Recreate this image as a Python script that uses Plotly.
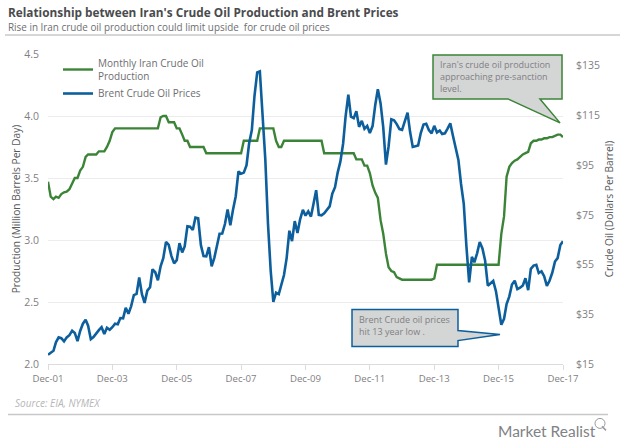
import pandas as pd
import plotly.graph_objects as go

W, H = 620, 444
L, R, T, B = 48, 563, 54, 364.5

months = pd.date_range("2001-12-01", "2017-12-01", freq="MS")

iran_production = [
    3.47,
    3.35, 3.33, 3.35, 3.34, 3.37, 3.385, 3.39, 3.41, 3.455, 3.50, 3.50, 3.56,
    3.59, 3.67, 3.69, 3.69, 3.69, 3.69, 3.715, 3.715, 3.715, 3.75, 3.80, 3.87,
    3.90, 3.90, 3.90, 3.90, 3.90, 3.90, 3.90, 3.90, 3.90, 3.90, 3.90, 3.90,
    3.90, 3.90, 3.90, 3.90, 3.90, 3.99, 4.00, 4.00, 3.95, 3.95, 3.95, 3.90,
    3.90, 3.85, 3.80, 3.80, 3.75, 3.75, 3.75, 3.75, 3.75, 3.75, 3.70, 3.70,
    3.70, 3.70, 3.70, 3.70, 3.70, 3.70, 3.70, 3.70, 3.70, 3.70, 3.70, 3.70,
    3.80, 3.80, 3.80, 3.80, 3.80, 3.80, 3.90, 3.90, 3.90, 3.90, 3.90, 3.90,
    3.80, 3.75, 3.75, 3.80, 3.80, 3.80, 3.80, 3.80, 3.80, 3.80, 3.80, 3.80,
    3.80, 3.80, 3.80, 3.80, 3.80, 3.80, 3.70, 3.70, 3.70, 3.70, 3.70, 3.70,
    3.70, 3.70, 3.70, 3.70, 3.70, 3.70, 3.65, 3.65, 3.65, 3.60, 3.60, 3.54,
    3.44, 3.38, 3.34, 3.16, 3.05, 2.89, 2.78, 2.75, 2.74, 2.70, 2.69, 2.68,
    2.68, 2.68, 2.68, 2.68, 2.68, 2.68, 2.68, 2.68, 2.68, 2.68, 2.68, 2.69,
    2.80, 2.80, 2.80, 2.80, 2.80, 2.80, 2.80, 2.80, 2.80, 2.80, 2.80, 2.80,
    2.80, 2.80, 2.80, 2.80, 2.80, 2.80, 2.80, 2.80, 2.80, 2.80, 2.80, 2.80,
    3.05, 3.19, 3.51, 3.59, 3.62, 3.64, 3.65, 3.67, 3.69, 3.70, 3.71, 3.78,
    3.80, 3.80, 3.81, 3.81, 3.82, 3.82, 3.83, 3.83, 3.84, 3.85, 3.85, 3.83,
]

brent_prices = [
    18.7,
    19.4, 20.3, 23.7, 25.7, 25.4, 24.1, 25.7, 26.6, 28.4, 27.5, 24.2, 28.3,
    31.2, 32.8, 30.4, 25.0, 25.8, 27.5, 28.6, 29.8, 27.1, 29.6, 28.8, 29.8,
    31.2, 31.0, 33.5, 33.4, 37.6, 35.2, 38.2, 42.7, 43.2, 49.8, 43.1, 39.6,
    44.5, 45.9, 53.1, 51.9, 48.7, 54.3, 57.6, 64.1, 62.9, 58.5, 55.5, 56.8,
    63.6, 59.9, 62.3, 70.4, 70.2, 68.9, 73.9, 73.6, 62.8, 58.4, 58.3, 62.0,
    54.3, 57.8, 62.1, 67.4, 67.5, 71.3, 77.2, 70.8, 77.2, 82.4, 92.5, 91.5,
    92.0, 95.0, 103.7, 109.1, 122.8, 132.3, 132.7, 113.2, 97.2, 71.6, 52.5, 40.0,
    43.7, 43.1, 46.8, 50.8, 57.6, 68.6, 64.4, 72.5, 67.7, 73.2, 77.0, 74.7,
    76.4, 74.3, 79.3, 84.9, 75.0, 74.8, 75.6, 77.1, 78.4, 83.5, 86.1, 92.0,
    96.5, 103.7, 114.6, 123.3, 114.5, 113.9, 116.7, 110.4, 112.8, 109.6, 110.8, 107.9,
    110.7, 119.3, 125.5, 119.8, 110.3, 95.2, 102.6, 113.4, 113.0, 111.5, 109.5, 109.2,
    112.3, 116.1, 108.5, 102.3, 102.6, 102.9, 107.9, 111.3, 111.6, 109.1, 107.8, 110.8,
    108.1, 108.9, 107.5, 107.8, 109.7, 111.8, 106.8, 101.6, 97.1, 87.4, 79.4, 62.3,
    47.8, 58.1, 55.9, 59.5, 64.1, 61.5, 56.6, 46.5, 47.6, 48.4, 44.3, 37.7,
    30.8, 33.2, 39.1, 42.2, 47.0, 48.5, 45.1, 45.7, 46.6, 49.5, 44.7, 53.3,
    54.6, 54.9, 51.6, 52.3, 50.3, 46.4, 48.5, 51.7, 56.2, 57.6, 62.9, 64.4,
]

x_ticks = ["2001-12-01", "2003-12-01", "2005-12-01", "2007-12-01", "2009-12-01",
           "2011-12-01", "2013-12-01", "2015-12-01", "2017-12-01"]
x_tick_labels = ["Dec-01", "Dec-03", "Dec-05", "Dec-07", "Dec-09", "Dec-11", "Dec-13", "Dec-15", "Dec-17"]
left_ticks = [2.0, 2.5, 3.0, 3.5, 4.0, 4.5]
left_tick_labels = ["2.0", "2.5", "3.0", "3.5", "4.0", "4.5"]
right_ticks = [15, 35, 55, 75, 95, 115, 135]
right_tick_labels = ["$15", "$35", "$55", "$75", "$95", "$115", "$135"]

GREEN = "#3b8437"
BLUE = "#0c5f9c"
FONT = "Open Sans"
GREY = "#7f8083"


def px(x):
    return (x - L) / (R - L)


def py(y):
    return (B - y) / (B - T)


def path(points):
    return "M " + " L ".join(f"{px(a):.4f},{py(b):.4f}" for a, b in points) + " Z"


def text(x, y, s, size=9, color=GREY, family=FONT):
    return dict(xref="paper", yref="paper", x=px(x), y=py(y), text=s, showarrow=False,
                xanchor="left", yanchor="middle", align="left",
                font=dict(family=family, size=size, color=color), borderpad=0)


fig = go.Figure()
fig.add_trace(go.Scatter(x=months, y=iran_production, mode="lines",
                         name="Monthly Iran Crude Oil<br>Production",
                         line=dict(color=GREEN, width=2.4)))
fig.add_trace(go.Scatter(x=months, y=brent_prices, mode="lines", yaxis="y2",
                         name="Brent Crude Oil Prices",
                         line=dict(color=BLUE, width=2.6)))

shapes = [
    dict(type="line", xref="paper", yref="paper", x0=px(5), x1=px(620), y0=py(35), y1=py(35),
         line=dict(color="#c8c8c8", width=1.5)),
    dict(type="line", xref="paper", yref="paper", x0=px(8), x1=px(608), y0=py(415), y1=py(415),
         line=dict(color="#c8c8c8", width=1.5)),
    dict(type="path", xref="paper", yref="paper", fillcolor="#d4d5d5",
         line=dict(color=GREEN, width=1.5),
         path=path([(433, 55), (562, 55), (562, 99), (540, 99), (560, 123), (508, 99), (433, 99)])),
    dict(type="path", xref="paper", yref="paper", fillcolor="#d4d5d5",
         line=dict(color=BLUE, width=1.5),
         path=path([(352, 310), (458, 310), (458, 331), (500, 335), (458, 341), (458, 347), (352, 347)])),
    dict(type="circle", xref="paper", yref="paper", x0=px(595), x1=px(605), y0=py(419), y1=py(429),
         line=dict(color="#9a9a9a", width=1)),
    dict(type="line", xref="paper", yref="paper", x0=px(602), x1=px(606), y0=py(427), y1=py(431),
         line=dict(color="#9a9a9a", width=1.5)),
]

annotations = [
    text(7, 12, "<b>Relationship between Iran's Crude Oil Production and Brent Prices</b>",
         size=11.8, color="#4a4b4d"),
    text(7, 27, "Rise in Iran crude oil production could limit upside  for crude oil prices",
         size=9.9, color="#6d6e71"),
    text(439, 65, "Iran's crude oil production"),
    text(439, 77, "approaching pre-sanction"),
    text(439, 89, "level."),
    text(358, 320, "Brent Crude oil prices"),
    text(358, 332, "hit 13 year low ."),
    text(14, 404, "<i>Source: EIA, NYMEX</i>", size=10, color="#b5b6b8"),
    text(497, 432, "Market Realist", size=15.5, color="#808285", family="Lato"),
]

fig.update_layout(
    width=W, height=H, autosize=False,
    margin=dict(l=L, r=W - R, t=T, b=H - B, pad=0, autoexpand=False),
    paper_bgcolor="white", plot_bgcolor="white",
    font=dict(family=FONT, size=10, color=GREY),
    showlegend=True,
    legend=dict(x=px(58), y=py(50), xanchor="left", yanchor="top", bgcolor="rgba(0,0,0,0)",
                font=dict(size=10, color="#6d6e71"), itemwidth=30, tracegroupgap=0),
    xaxis=dict(type="date", range=[months[0], months[-1]], tickmode="array", tickvals=x_ticks,
               ticktext=x_tick_labels,
               ticks="outside", ticklen=5, tickcolor="#dcdcdc", showline=True, linecolor="#dcdcdc",
               showgrid=False, tickfont=dict(size=9.6, color=GREY), zeroline=False),
    yaxis=dict(range=[2.0, 4.5], tickmode="array", tickvals=left_ticks, ticktext=left_tick_labels,
               showgrid=True, gridcolor="#ececec", zeroline=False, ticks="", ticklabelstandoff=8,
               tickfont=dict(size=10.5, color=GREY),
               title=dict(text="Production (Million Barrels Per Day)", standoff=1,
                          font=dict(size=10.2, color="#58595b"))),
    yaxis2=dict(overlaying="y", side="right", range=[15, 15 + (B - T) / 49.8 * 20],
                tickmode="array", tickvals=right_ticks, ticktext=right_tick_labels,
                showgrid=False, zeroline=False, ticks="",
                ticklabelstandoff=12, tickfont=dict(size=10.5, color=GREY),
                title=dict(text="Crude Oil (Dollars Per Barrel)", standoff=6,
                           font=dict(size=10.2, color="#58595b"))),
    shapes=shapes, annotations=annotations,
)

fig.write_html("out.html", config=dict(displayModeBar=False),
               post_script="document.body.style.margin='0';")
